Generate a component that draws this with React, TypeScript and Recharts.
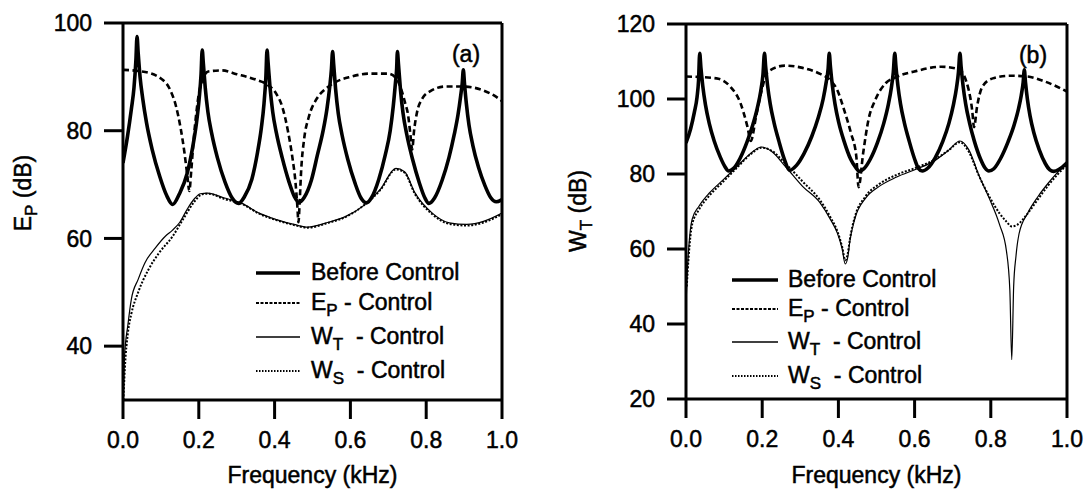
import React from 'react';
import { LineChart, Line, XAxis, YAxis, ReferenceLine, Legend } from 'recharts';

type Pt = [number, number];

const FONT = '"Liberation Sans", Arial, Helvetica, sans-serif';

const xTicks = [0, 0.2, 0.4, 0.6, 0.8, 1.0];
const yTicksA = [40, 60, 80, 100];
const yTicksB = [20, 40, 60, 80, 100, 120];

const legendLabels = [
  { main: 'Before Control', sub: '', rest: '' },
  { main: 'E', sub: 'P', rest: ' - Control' },
  { main: 'W', sub: 'T', rest: '\u00a0 - Control' },
  { main: 'W', sub: 'S', rest: '\u00a0 - Control' },
];

// ---------- Panel (a): E_P (dB) ----------
const beforeA: Pt[] = [
  [0, 74.0], [0.012, 79], [0.022, 84], [0.029, 88], [0.034, 93], [0.037, 97.5],
  [0.04, 94.5], [0.045, 90], [0.052, 86], [0.062, 81.5], [0.077, 76.5], [0.097, 71.5], [0.115, 68], [0.131, 66.3],
  [0.149, 68.3], [0.169, 72], [0.184, 77], [0.194, 81.5], [0.201, 86], [0.206, 90.5], [0.209, 95],
  [0.212, 92.5], [0.217, 88], [0.224, 83.5], [0.234, 79.5], [0.249, 75], [0.269, 70.5], [0.288, 67.5], [0.305, 66.5],
  [0.32, 67.7], [0.34, 71], [0.355, 76], [0.365, 80.5], [0.372, 85], [0.377, 90], [0.38, 95],
  [0.383, 92.5], [0.388, 88], [0.395, 83.5], [0.405, 79.5], [0.42, 75], [0.438, 70.5], [0.452, 67.8], [0.464, 66.7],
  [0.478, 67.6], [0.497, 70.8], [0.513, 75.5], [0.528, 80], [0.538, 84], [0.546, 88.5], [0.55, 91.5], [0.553, 94.7],
  [0.556, 92.2], [0.561, 87.7], [0.568, 83.2], [0.578, 79.2], [0.593, 74.7], [0.612, 70.3], [0.628, 67.5], [0.642, 66.6],
  [0.656, 67.6], [0.675, 71], [0.692, 75.5], [0.705, 80], [0.713, 84.5], [0.719, 89], [0.722, 91.5], [0.724, 94.7],
  [0.727, 92.2], [0.732, 87.7], [0.739, 83.2], [0.749, 79.2], [0.764, 74.7], [0.782, 70.3], [0.796, 67.6], [0.807, 66.5],
  [0.822, 67.5], [0.842, 70.8], [0.86, 75], [0.874, 79.3], [0.884, 83], [0.891, 86.5], [0.895, 88.8], [0.898, 91.3],
  [0.901, 88.8], [0.906, 85], [0.913, 81], [0.923, 77.3], [0.938, 73.2], [0.955, 69.8], [0.97, 67.6], [0.985, 66.8], [1.0, 67.2],
];

const epA: Pt[] = [
  [0, 91.3], [0.05, 91], [0.1, 89.7], [0.125, 87.5], [0.14, 84.5], [0.152, 80.5], [0.162, 76], [0.17, 71.5], [0.175, 68.8],
  [0.18, 72.5], [0.186, 78], [0.193, 83], [0.2, 86.8], [0.21, 89.5], [0.225, 91], [0.26, 91.2], [0.3, 90.5], [0.35, 89.5],
  [0.38, 88.6], [0.405, 86.8], [0.42, 84.5], [0.435, 80], [0.447, 75], [0.455, 70.5], [0.46, 66], [0.463, 63],
  [0.466, 66.5], [0.47, 72.5], [0.478, 78.5], [0.49, 82.5], [0.51, 85.8], [0.535, 87.8], [0.56, 89], [0.6, 90],
  [0.65, 90.6], [0.7, 90.6], [0.72, 89.8], [0.735, 87.5], [0.745, 85], [0.752, 83], [0.758, 79.5], [0.763, 76.5],
  [0.768, 80], [0.776, 83.5], [0.79, 86], [0.81, 87.3], [0.85, 88.2], [0.9, 88.2], [0.95, 87.5], [0.98, 86.5], [1.0, 85.5],
];

const wtA: Pt[] = [
  [0.001, 30], [0.004, 38], [0.013, 44], [0.022, 48.7], [0.04, 52.4], [0.058, 55.5], [0.085, 58.2], [0.113, 60.5],
  [0.13, 61.5], [0.15, 63], [0.17, 65.5], [0.19, 67.5], [0.204, 68.3], [0.223, 68.4], [0.268, 67.5], [0.314, 66.5],
  [0.359, 64.7], [0.405, 63.5], [0.451, 62.6], [0.487, 62.1], [0.542, 63], [0.588, 64.1], [0.633, 66], [0.679, 69.1],
  [0.72, 73], [0.743, 72.4], [0.77, 68.5], [0.816, 64.7], [0.861, 62.9], [0.907, 62.6], [0.953, 63.2], [1.0, 64.7],
];

const wsA: Pt[] = [
  [0.001, 30], [0.005, 36], [0.013, 42.5], [0.022, 46], [0.04, 50], [0.067, 54.2], [0.095, 57.3], [0.131, 60.4],
  [0.158, 63.5], [0.186, 66.6], [0.209, 68.2], [0.225, 68.3], [0.268, 67.3], [0.314, 66.4], [0.359, 64.6], [0.405, 63.4],
  [0.451, 62.5], [0.487, 62], [0.542, 62.9], [0.588, 64], [0.633, 66], [0.679, 69], [0.72, 72.8], [0.743, 72.2],
  [0.77, 68.3], [0.816, 64.5], [0.861, 62.7], [0.907, 62.4], [0.953, 63], [1.0, 64.5],
];

// ---------- Panel (b): W_T (dB) ----------
const beforeB: Pt[] = [
  [0, 88.3], [0.012, 92], [0.022, 96.5], [0.029, 100.5], [0.033, 105], [0.036, 112.2],
  [0.039, 108.5], [0.044, 103.5], [0.051, 98.5], [0.061, 93.5], [0.074, 88.8], [0.09, 84.5], [0.102, 82], [0.112, 80.8],
  [0.125, 81.5], [0.142, 84.2], [0.16, 88.5], [0.175, 93], [0.187, 97.5], [0.196, 102], [0.202, 106.5], [0.206, 112.2],
  [0.209, 108.7], [0.214, 103.7], [0.221, 98.7], [0.231, 93.7], [0.244, 88.7], [0.258, 84], [0.272, 81],
  [0.29, 82.3], [0.31, 85.5], [0.33, 90], [0.347, 95], [0.36, 100], [0.368, 104.5], [0.373, 108], [0.376, 112.2],
  [0.379, 108.7], [0.384, 103.7], [0.391, 98.7], [0.401, 93.7], [0.415, 88.7], [0.432, 84], [0.445, 81.8], [0.455, 80.7],
  [0.467, 81.4], [0.484, 84], [0.503, 88.5], [0.519, 93.5], [0.531, 98.5], [0.539, 103], [0.544, 107], [0.548, 112.2],
  [0.551, 108.7], [0.556, 103.7], [0.563, 98.7], [0.573, 93.7], [0.586, 88.7], [0.6, 84], [0.61, 81.5], [0.62, 80.8],
  [0.635, 81.6], [0.654, 84.3], [0.674, 88.7], [0.69, 93.5], [0.702, 98.5], [0.71, 103], [0.715, 107], [0.719, 112.2],
  [0.722, 108.7], [0.727, 103.7], [0.734, 98.7], [0.744, 93.7], [0.757, 88.7], [0.773, 84], [0.785, 81.6], [0.795, 80.8],
  [0.808, 81.4], [0.826, 84.2], [0.845, 88.5], [0.861, 93], [0.873, 97.5], [0.88, 101], [0.885, 104.5], [0.888, 107.8],
  [0.891, 104.5], [0.896, 100], [0.903, 95.5], [0.913, 91], [0.927, 86.5], [0.943, 82.8], [0.955, 81.1], [0.965, 80.7],
  [0.98, 81.3], [1.0, 83],
];

const epB: Pt[] = [
  [0, 106], [0.08, 105.5], [0.116, 103.3], [0.143, 98.9], [0.161, 92.7], [0.17, 88.8], [0.184, 95.4], [0.197, 101.6],
  [0.215, 107.3], [0.26, 108.9], [0.306, 108.3], [0.352, 106.7], [0.379, 105], [0.397, 102.4], [0.415, 97.1],
  [0.433, 90.9], [0.447, 84.7], [0.453, 76.5], [0.465, 85.6], [0.479, 94.5], [0.497, 99.8], [0.524, 104.2],
  [0.551, 105.8], [0.606, 107.5], [0.67, 108.6], [0.715, 108], [0.742, 102.4], [0.751, 97.1], [0.756, 92.5],
  [0.764, 98], [0.778, 103.3], [0.805, 105.5], [0.85, 106.2], [0.896, 106], [0.941, 104.7], [1.0, 102],
];

const wtB: Pt[] = [
  [0, 45], [0.003, 53], [0.007, 60], [0.016, 67.9], [0.034, 71.4], [0.062, 75], [0.098, 78.5], [0.134, 82],
  [0.171, 85.6], [0.198, 87.2], [0.225, 86], [0.261, 82], [0.306, 76.7], [0.352, 72.3], [0.379, 67.9], [0.397, 64.3],
  [0.41, 60], [0.418, 56], [0.425, 58], [0.43, 62], [0.443, 68], [0.471, 73.5], [0.507, 76.7], [0.553, 79.2],
  [0.607, 81.4], [0.652, 83.5], [0.689, 86.3], [0.719, 88.8], [0.742, 86.5], [0.769, 79.6], [0.796, 73.5],
  [0.823, 66.5], [0.841, 59.5], [0.85, 49], [0.855, 30.5], [0.86, 50], [0.866, 58], [0.874, 64], [0.897, 69.6],
  [0.924, 74], [0.951, 77.6], [1.0, 83],
];

const wsB: Pt[] = [
  [0.002, 50], [0.007, 58], [0.016, 66.5], [0.034, 70.5], [0.062, 74.3], [0.098, 78], [0.134, 81.7], [0.171, 85.4],
  [0.198, 87], [0.225, 86.2], [0.261, 82.8], [0.306, 78], [0.352, 73], [0.379, 68.5], [0.397, 64.8], [0.41, 60.5],
  [0.418, 57], [0.425, 59], [0.43, 62.5], [0.443, 68.5], [0.471, 74], [0.507, 77.3], [0.553, 79.8], [0.607, 81.8],
  [0.652, 83.8], [0.689, 86.3], [0.719, 88.5], [0.742, 86], [0.769, 79.5], [0.796, 74], [0.823, 69.5], [0.841, 67.3],
  [0.855, 66], [0.87, 66.5], [0.897, 69.5], [0.924, 73.3], [0.951, 77], [1.0, 82.5],
];

const toData = (pts: Pt[]) => pts.map(([f, v]) => ({ f, v }));

const seriesStyles = [
  { strokeWidth: 3.6, dash: undefined as string | undefined, legendWidth: 3.6, legendDash: undefined as string | undefined },
  { strokeWidth: 2.6, dash: '6 3.5', legendWidth: 2, legendDash: '3 1.5' },
  { strokeWidth: 1.2, dash: undefined, legendWidth: 1.3, legendDash: undefined },
  { strokeWidth: 2, dash: '2 1.6', legendWidth: 2, legendDash: '1.5 1.5' },
];

const TEXT_STROKE = 0.5;

function XTitleAt({ tx, ty }: any) {
  return (
    <text x={tx} y={ty} textAnchor="middle" fontSize={23} fontFamily={FONT} fill="#000" stroke="#000" strokeWidth={TEXT_STROKE}>
      Frequency (kHz)
    </text>
  );
}

function YTitleAt({ tx, ty, main, sub }: any) {
  return (
    <text
      transform={`translate(${tx},${ty}) rotate(-90)`}
      x={0}
      y={0}
      textAnchor="middle"
      fontSize={23}
      fontFamily={FONT}
      fill="#000"
      stroke="#000"
      strokeWidth={TEXT_STROKE}
    >
      {main}
      <tspan fontSize={17} dy={6}>{sub}</tspan>
      <tspan dy={-6}>{' (dB)'}</tspan>
    </text>
  );
}

type PanelProps = {
  series: Pt[][];
  yDomain: [number, number];
  yTicks: number[];
  yAxisWidth: number;
  margin: { top: number; right: number; bottom: number; left: number };
  xAxisHeight: number;
  yTitle: { tx: number; ty: number; main: string; sub: string };
  xTitle: { tx: number; ty: number };
  legend: { lineX1: number; lineX2: number; textX: number; rows: number[] };
  tag: { text: string; x: number; y: number };
};

function Panel(p: PanelProps) {
  const axisStyle = { stroke: '#000', strokeWidth: 3 };
  const tickStyle = { fill: '#000', fontSize: 23, fontFamily: FONT, stroke: '#000', strokeWidth: TEXT_STROKE };
  const htmlText = { WebkitTextStroke: `${TEXT_STROKE}px #000` } as React.CSSProperties;
  const renderLegend = () => (
    <div style={{ position: 'relative', width: 543, height: 493, fontFamily: FONT, color: '#000' }}>
      {legendLabels.map((lab, i) => {
        const cy = p.legend.rows[i];
        const st = seriesStyles[i];
        return (
          <React.Fragment key={i}>
            <svg
              style={{ position: 'absolute', left: p.legend.lineX1, top: cy - 4 }}
              width={p.legend.lineX2 - p.legend.lineX1}
              height={10}
            >
              <line
                x1={0}
                y1={5}
                x2={p.legend.lineX2 - p.legend.lineX1}
                y2={5}
                stroke="#000"
                strokeWidth={st.legendWidth}
                strokeDasharray={st.legendDash}
              />
            </svg>
            <div
              style={{
                position: 'absolute',
                left: p.legend.textX,
                top: cy - 11.5,
                fontSize: 23,
                lineHeight: '23px',
                whiteSpace: 'pre',
                ...htmlText,
              }}
            >
              {lab.main}
              {lab.sub ? (
                <span style={{ fontSize: 17, position: 'relative', top: 6 }}>{lab.sub}</span>
              ) : null}
              {lab.rest}
            </div>
          </React.Fragment>
        );
      })}
      <div
        style={{
          position: 'absolute',
          left: p.tag.x - 30,
          width: 60,
          textAlign: 'center',
          top: p.tag.y - 19.5,
          fontSize: 23,
          lineHeight: '23px',
          ...htmlText,
        }}
      >
        {p.tag.text}
      </div>
    </div>
  );

  return (
    <LineChart width={543} height={493} margin={p.margin}>
      <XAxis
        dataKey="f"
        type="number"
        domain={[0, 1]}
        ticks={xTicks}
        interval={0}
        tickFormatter={(v: number) => v.toFixed(1)}
        axisLine={axisStyle}
        tickLine={{ stroke: '#000', strokeWidth: 3 }}
        tickSize={19}
        tickMargin={13}
        tick={tickStyle}
        height={p.xAxisHeight}
        allowDataOverflow
        label={<XTitleAt tx={p.xTitle.tx} ty={p.xTitle.ty} />}
      />
      <YAxis
        type="number"
        domain={p.yDomain}
        ticks={p.yTicks}
        interval={0}
        axisLine={axisStyle}
        tickLine={{ stroke: '#000', strokeWidth: 3 }}
        tickSize={19}
        tickMargin={12}
        tick={tickStyle}
        width={p.yAxisWidth}
        allowDataOverflow
        label={<YTitleAt tx={p.yTitle.tx} ty={p.yTitle.ty} main={p.yTitle.main} sub={p.yTitle.sub} />}
      />
      <ReferenceLine y={p.yDomain[1]} stroke="#000" strokeWidth={3} />
      <ReferenceLine x={1} stroke="#000" strokeWidth={3} />
      {p.series.map((s, i) => (
        <Line
          key={i}
          data={toData(s)}
          dataKey="v"
          type="monotone"
          stroke="#000"
          strokeWidth={seriesStyles[i].strokeWidth}
          strokeDasharray={seriesStyles[i].dash}
          dot={false}
          activeDot={false}
          isAnimationActive={false}
          name={String(i)}
        />
      ))}
      <Legend
        layout="vertical"
        align="center"
        verticalAlign="middle"
        content={renderLegend}
        wrapperStyle={{ left: 0, top: 0, width: 543, height: 493, pointerEvents: 'none' }}
      />
    </LineChart>
  );
}

export default function App() {
  return (
    <div style={{ position: 'absolute', left: 0, top: 0, width: 1086, height: 493, background: '#fff' }}>
      <div style={{ position: 'absolute', left: 0, top: 0 }}>
        <Panel
          series={[beforeA, epA, wtA, wsA]}
          yDomain={[30, 100]}
          yTicks={yTicksA}
          yAxisWidth={123}
          margin={{ top: 23, right: 41, bottom: 0, left: 0 }}
          xAxisHeight={93}
          yTitle={{ tx: 31, ty: 193, main: 'E', sub: 'P' }}
          xTitle={{ tx: 312.5, ty: 483 }}
          legend={{ lineX1: 256, lineX2: 300, textX: 311, rows: [272, 302, 336, 370] }}
          tag={{ text: '(a)', x: 466, y: 62 }}
        />
      </div>
      <div style={{ position: 'absolute', left: 543, top: 0 }}>
        <Panel
          series={[beforeB, epB, wtB, wsB]}
          yDomain={[20, 120]}
          yTicks={yTicksB}
          yAxisWidth={143}
          margin={{ top: 24, right: 19, bottom: 0, left: 0 }}
          xAxisHeight={94}
          yTitle={{ tx: 43, ty: 211, main: 'W', sub: 'T' }}
          xTitle={{ tx: 333.5, ty: 483 }}
          legend={{ lineX1: 189, lineX2: 235, textX: 245, rows: [279, 308, 341, 375] }}
          tag={{ text: '(b)', x: 490, y: 63 }}
        />
      </div>
    </div>
  );
}
